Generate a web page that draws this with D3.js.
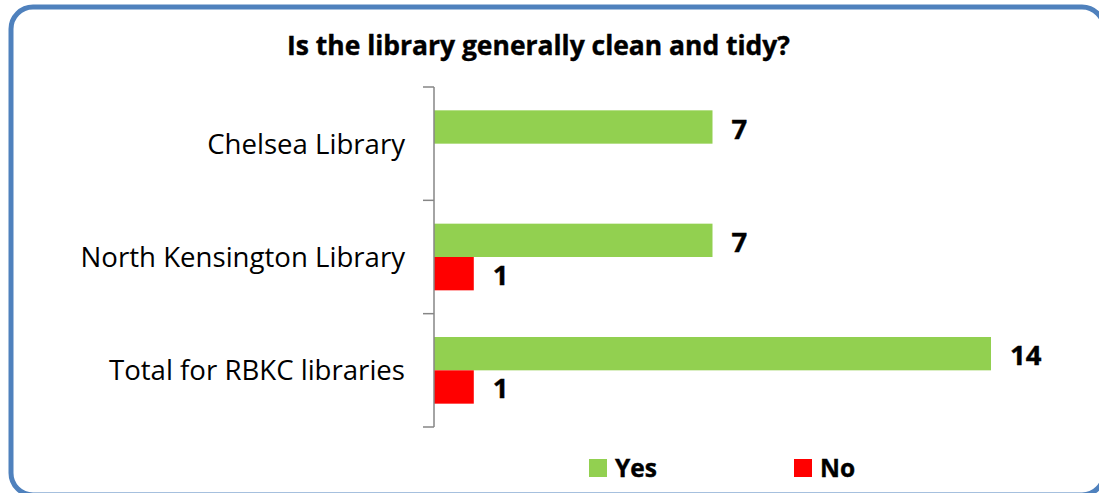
<!DOCTYPE html>
<html>
<head>
<meta charset="utf-8">
<script src="https://cdn.jsdelivr.net/npm/d3@7/dist/d3.min.js"></script>
<style>
html,body{margin:0;padding:0;background:#fff;}
svg{display:block;}
text{font-family:"Open Sans",sans-serif;fill:#000;}
</style>
</head>
<body>
<svg id="chart" width="1099" height="493"></svg>
<script>
const title = "Is the library generally clean and tidy?";
const categories = ["Chelsea Library", "North Kensington Library", "Total for RBKC libraries"];
const seriesNames = ["Yes", "No"];
const yesValues = [7, 7, 14];
const noValues = [null, 1, 1];
const colors = {Yes: "#92D050", No: "#FF0000"};

const svg = d3.select("#chart");

// border
svg.append("rect")
  .attr("x", 11).attr("y", 7)
  .attr("width", 1093).attr("height", 488)
  .attr("rx", 22).attr("ry", 22)
  .attr("fill", "#fff")
  .attr("stroke", "#4F81BD")
  .attr("stroke-width", 5);

// title
svg.append("text")
  .attr("x", 538.5).attr("y", 55)
  .attr("text-anchor", "middle")
  .attr("font-weight", "bold")
  .attr("font-size", 26)
  .attr("textLength", 503)
  .attr("lengthAdjust", "spacingAndGlyphs")
  .attr("stroke", "#000").attr("stroke-width", 0.4)
  .text(title);

const x = d3.scaleLinear().domain([0, 14]).range([434, 991]);
const y = d3.scaleBand().domain(categories).range([87, 427]).paddingInner(0).paddingOuter(0);
const inner = d3.scaleBand().domain(seriesNames).range([0, y.bandwidth()]).paddingInner(0).paddingOuter(0.7);

const data = categories.map((c, i) => ({
  cat: c,
  values: [{s: "Yes", v: yesValues[i]}, {s: "No", v: noValues[i]}]
}));

const groups = svg.append("g").selectAll("g")
  .data(data).join("g")
  .attr("transform", d => `translate(0,${y(d.cat)})`);

groups.selectAll("rect")
  .data(d => d.values.filter(e => e.v != null))
  .join("rect")
  .attr("x", x(0))
  .attr("y", e => inner(e.s))
  .attr("width", e => x(e.v) - x(0))
  .attr("height", inner.bandwidth())
  .attr("fill", e => colors[e.s]);

groups.selectAll("text.val")
  .data(d => d.values.filter(e => e.v != null))
  .join("text")
  .attr("class", "val")
  .attr("x", e => x(e.v) + 19)
  .attr("y", e => inner(e.s) + inner.bandwidth() / 2 + 11.5)
  .attr("font-weight", "bold")
  .attr("font-size", 27.5)
  .attr("stroke", "#000").attr("stroke-width", 0.4)
  .text(e => e.v);

// axis
const axis = d3.axisLeft(y).tickSize(0).tickFormat("");
const ag = svg.append("g").attr("transform", `translate(${x(0)},0)`).call(axis);
ag.select(".domain").attr("stroke", "#868686").attr("stroke-width", 1.5).attr("d", `M0,87V427`);
// category boundary ticks
const bounds = categories.map(c => y(c)).concat([y(categories[categories.length - 1]) + y.bandwidth()]);
svg.append("g").selectAll("line").data(bounds).join("line")
  .attr("x1", x(0) - 11).attr("x2", x(0))
  .attr("y1", d => d).attr("y2", d => d)
  .attr("stroke", "#868686").attr("stroke-width", 1.5);

// category labels
svg.append("g").selectAll("text").data(categories).join("text")
  .attr("x", 405)
  .attr("y", d => y(d) + y.bandwidth() / 2 + 10)
  .attr("text-anchor", "end")
  .attr("font-size", 27.6)
  .text(d => d);

// legend
const legendPos = [{s: "Yes", x: 589}, {s: "No", x: 794}];
const lg = svg.append("g").selectAll("g").data(legendPos).join("g")
  .attr("transform", d => `translate(${d.x},459)`);
lg.append("rect").attr("width", 18).attr("height", 18).attr("fill", d => colors[d.s]);
lg.append("text").attr("x", 26).attr("y", 18)
  .attr("font-weight", "bold").attr("font-size", 24.5)
  .attr("stroke", "#000").attr("stroke-width", 0.4)
  .text(d => d.s);
</script>
</body>
</html>
